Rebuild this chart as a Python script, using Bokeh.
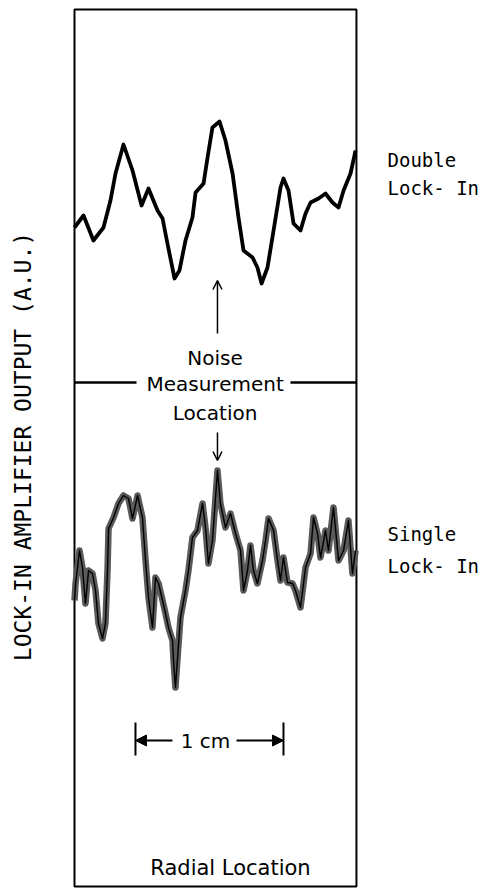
import math
from bokeh.plotting import figure
from bokeh.models import Range1d, Label, Arrow, OpenHead, NormalHead
from bokeh.embed import file_html
from bokeh.resources import INLINE

# Radial location (cm) and lock-in output (A.U.)
double_x = [0.0, 0.061, 0.128, 0.196, 0.243, 0.277, 0.331, 0.392, 0.453, 0.5,
            0.561, 0.595, 0.628, 0.676, 0.709, 0.75, 0.797, 0.818, 0.872, 0.899,
            0.932, 0.98, 1.02, 1.068, 1.108, 1.142, 1.203, 1.236, 1.264, 1.304,
            1.345, 1.392, 1.412, 1.446, 1.48, 1.527, 1.561, 1.595, 1.649, 1.696,
            1.743, 1.784, 1.818, 1.865, 1.899]
double_y = [6.59, 6.71, 6.46, 6.59, 6.86, 7.13, 7.42, 7.16, 6.81, 6.98,
            6.76, 6.68, 6.43, 6.08, 6.16, 6.46, 6.69, 6.94, 7.03, 7.29,
            7.59, 7.65, 7.46, 7.13, 6.69, 6.36, 6.29, 6.19, 6.03, 6.19,
            6.56, 6.99, 7.08, 6.96, 6.63, 6.56, 6.73, 6.84, 6.88, 6.93,
            6.84, 6.79, 6.96, 7.13, 7.36]

single_x = [0.0, 0.007, 0.034, 0.054, 0.074, 0.095, 0.122, 0.142, 0.162, 0.189,
            0.209, 0.223, 0.23, 0.264, 0.297, 0.331, 0.365, 0.392, 0.426, 0.459,
            0.48, 0.5, 0.527, 0.547, 0.568, 0.595, 0.615, 0.635, 0.662, 0.669,
            0.682, 0.716, 0.75, 0.77, 0.797, 0.831, 0.865, 0.885, 0.905, 0.932,
            0.966, 0.986, 1.02, 1.054, 1.088, 1.122, 1.142, 1.169, 1.189, 1.209,
            1.236, 1.27, 1.291, 1.311, 1.345, 1.372, 1.392, 1.412, 1.439, 1.473,
            1.493, 1.527, 1.561, 1.595, 1.615, 1.642, 1.662, 1.696, 1.716, 1.75,
            1.784, 1.818, 1.851, 1.878, 1.899]
single_y = [2.86, 3.03, 3.36, 3.19, 2.83, 3.16, 3.13, 2.96, 2.63, 2.48,
            2.63, 3.16, 3.58, 3.69, 3.83, 3.91, 3.88, 3.68, 3.91, 3.69,
            3.26, 2.89, 2.59, 3.09, 3.03, 2.86, 2.73, 2.59, 2.46, 2.26,
            1.99, 2.69, 2.96, 3.16, 3.49, 3.56, 3.83, 3.59, 3.23, 3.46,
            4.16, 3.83, 3.59, 3.73, 3.53, 3.36, 2.96, 3.16, 3.41, 3.16,
            3.03, 3.26, 3.46, 3.68, 3.56, 3.26, 3.06, 3.29, 3.04, 3.03,
            2.96, 2.79, 3.19, 3.33, 3.69, 3.53, 3.29, 3.56, 3.36, 3.79,
            3.26, 3.36, 3.66, 3.13, 3.36]

scan_range_cm = [0.0, 1.905]
output_range_au = [0.0, 8.77]
noise_location_cm = 0.966
scale_bar_cm = [0.412, 1.412]

p = figure(width=489, height=889,
           min_border_left=0, min_border_right=0,
           min_border_top=0, min_border_bottom=0,
           x_range=Range1d(-0.5, 2.804), y_range=Range1d(-0.03, 8.86),
           output_backend="svg", toolbar_location=None)
p.axis.visible = False
p.grid.visible = False
p.outline_line_color = None
p.background_fill_color = "white"
p.border_fill_color = "white"

# plot box
p.quad(left=[scan_range_cm[0]], right=[scan_range_cm[1]],
       bottom=[output_range_au[0]], top=[output_range_au[1]],
       fill_color=None, line_color="black", line_width=2)

# traces
p.line(double_x, double_y, line_color="black", line_width=3.8, line_join="round")
p.line(single_x, single_y, line_color="#5a5a5a", line_width=6.5, line_join="round")
p.line(single_x, single_y, line_color="black", line_width=1.4, line_join="round")

SANS = "DejaVu Sans"
MONO = "DejaVu Sans Mono"

# noise measurement line
p.segment(x0=[scan_range_cm[0], 1.459], y0=[5.04, 5.04],
          x1=[0.419, scan_range_cm[1]], y1=[5.04, 5.04],
          line_color="black", line_width=2.5)
for txt, yy in [("Noise", 5.29), ("Measurement", 5.03), ("Location", 4.74)]:
    p.add_layout(Label(x=0.95, y=yy, text=txt, text_align="center",
                       text_baseline="middle", text_font=SANS,
                       text_font_size="20px", text_color="black"))
p.add_layout(Arrow(end=OpenHead(size=9, line_width=1.5), x_start=noise_location_cm,
                   y_start=5.53, x_end=noise_location_cm, y_end=6.06,
                   line_width=1.5))
p.add_layout(Arrow(end=OpenHead(size=9, line_width=1.5), x_start=noise_location_cm,
                   y_start=4.54, x_end=noise_location_cm, y_end=4.26,
                   line_width=1.5))

# 1 cm scale bar
p.segment(x0=scale_bar_cm, y0=[1.31, 1.31], x1=scale_bar_cm, y1=[1.64, 1.64],
          line_color="black", line_width=2)
p.add_layout(Arrow(end=NormalHead(size=11, fill_color="black"), x_start=0.662,
                   y_start=1.46, x_end=scale_bar_cm[0], y_end=1.46, line_width=2))
p.add_layout(Arrow(end=NormalHead(size=11, fill_color="black"), x_start=1.095,
                   y_start=1.46, x_end=scale_bar_cm[1], y_end=1.46, line_width=2))
p.add_layout(Label(x=0.885, y=1.46, text="1 cm", text_align="center",
                   text_baseline="middle", text_font=SANS, text_font_size="20px",
                   text_color="black"))

p.add_layout(Label(x=1.054, y=0.19, text="Radial Location", text_align="center",
                   text_baseline="middle", text_font=SANS, text_font_size="21px",
                   text_color="black"))

# right-side labels
for txt, yy in [("Double", 7.27), ("Lock- In", 6.99), ("Single", 3.53), ("Lock- In", 3.21)]:
    p.add_layout(Label(x=2.115, y=yy, text=txt, text_align="left",
                       text_baseline="middle", text_font=MONO,
                       text_font_size="19px", text_color="black"))

# y axis title
p.add_layout(Label(x=-0.351, y=4.4, text="LOCK-IN AMPLIFIER OUTPUT (A.U.)",
                   angle=math.pi / 2, text_align="center", text_baseline="middle",
                   text_font=MONO, text_font_size="23px", text_color="black"))

open("out.html", "w").write(file_html(p, INLINE))
